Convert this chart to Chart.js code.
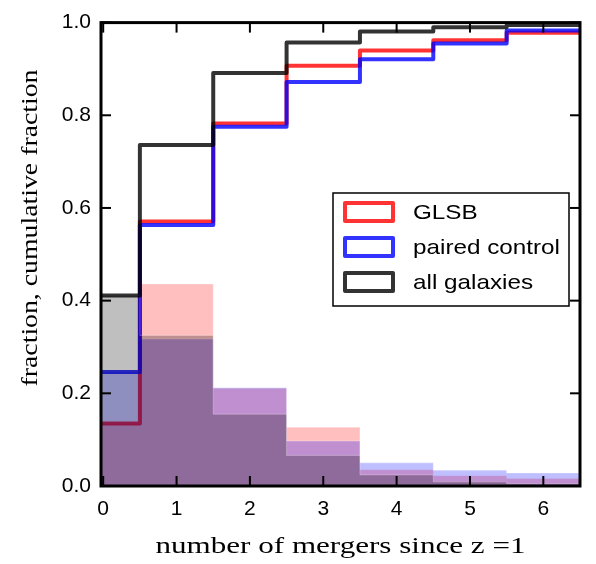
<!DOCTYPE html>
<html>
<head>
<meta charset="utf-8">
<title>mergers since z=1</title>
<script src="https://cdn.jsdelivr.net/npm/chart.js@4.4.0/dist/chart.umd.min.js"></script>
<style>
  body { margin: 0; background: #fff; }
  canvas { display: block; }
</style>
</head>
<body>
<canvas id="mergers" width="596" height="564"></canvas>
<script>
// number of mergers per galaxy (bin centres)
var mergerBins = [0, 1, 2, 3, 4, 5, 6];

// fraction of each sample in each bin
var glsbFrac    = [0.135, 0.436, 0.211, 0.127, 0.035, 0.022, 0.016];
var controlFrac = [0.246, 0.317, 0.212, 0.097, 0.050, 0.034, 0.028];
var allFrac     = [0.411, 0.325, 0.155, 0.066, 0.024, 0.009, 0.005];

// cumulative fraction
var glsbCum    = [0.135, 0.571, 0.782, 0.907, 0.940, 0.962, 0.978];
var controlCum = [0.246, 0.563, 0.775, 0.872, 0.921, 0.955, 0.983];
var allCum     = [0.411, 0.736, 0.891, 0.957, 0.981, 0.990, 0.995];

var xTicks = [0, 1, 2, 3, 4, 5, 6];
var yTicks = [0.0, 0.2, 0.4, 0.6, 0.8, 1.0];

var legendRows = [
  { label: 'GLSB', color: 'rgba(255,0,0,0.8)' },
  { label: 'paired control', color: 'rgba(0,0,255,0.8)' },
  { label: 'all galaxies', color: 'rgba(0,0,0,0.8)' }
];

// left bin edges carry the value, last point closes the final bin
function stepPoints(vals) {
  var pts = mergerBins.map(function(b, i) { return { x: b - 0.5, y: vals[i] }; });
  pts.push({ x: mergerBins[mergerBins.length - 1] + 0.5, y: vals[vals.length - 1] });
  return pts;
}

function histSet(vals, fillColor, order) {
  return {
    data: stepPoints(vals),
    stepped: true,
    fill: 'origin',
    backgroundColor: fillColor,
    borderColor: 'rgba(255,255,255,0.25)',
    borderWidth: 1,
    pointRadius: 0,
    order: order
  };
}

function cumSet(vals, lineColor, order) {
  return {
    data: stepPoints(vals),
    stepped: true,
    fill: false,
    borderColor: lineColor,
    borderWidth: 4,
    borderJoinStyle: 'round',
    borderCapStyle: 'round',
    pointRadius: 0,
    order: order
  };
}

function line(ctx, x1, y1, x2, y2) {
  ctx.beginPath();
  ctx.moveTo(x1, y1);
  ctx.lineTo(x2, y2);
  ctx.stroke();
}

// text drawn at a given width (the serif labels run wide)
function wideText(ctx, txt, x, y, width) {
  var w = ctx.measureText(txt).width;
  ctx.save();
  ctx.translate(x, y);
  ctx.scale(width / w, 1);
  ctx.fillText(txt, 0, 0);
  ctx.restore();
}

// frame, inward ticks on all sides, axis titles and the legend box
var decorations = {
  id: 'decorations',
  afterDraw: function(chart) {
    var ctx = chart.ctx, ca = chart.chartArea;
    var xs = chart.scales.x, ys = chart.scales.y;
    ctx.save();
    ctx.strokeStyle = '#000';
    ctx.lineWidth = 2;
    xTicks.forEach(function(v) {
      var px = xs.getPixelForValue(v);
      line(ctx, px, ca.bottom, px, ca.bottom - 10);
      line(ctx, px, ca.top, px, ca.top + 10);
    });
    yTicks.forEach(function(v) {
      var py = ys.getPixelForValue(v);
      line(ctx, ca.left, py, ca.left + 10, py);
      line(ctx, ca.right, py, ca.right - 10, py);
    });
    ctx.lineWidth = 3;
    ctx.strokeRect(ca.left, ca.top, ca.right - ca.left, ca.bottom - ca.top);

    // axis titles
    ctx.fillStyle = '#000';
    ctx.font = '24px "Liberation Serif"';
    ctx.textAlign = 'center';
    ctx.textBaseline = 'alphabetic';
    wideText(ctx, 'number of mergers since z =1', (ca.left + ca.right) / 2, 553, 370);
    ctx.save();
    ctx.translate(37, 228);
    ctx.rotate(-Math.PI / 2);
    wideText(ctx, 'fraction, cumulative fraction', 0, 0, 317);
    ctx.restore();

    // legend
    var bx = 333, by = 193, bw = 236, bh = 113;
    ctx.fillStyle = '#fff';
    ctx.fillRect(bx, by, bw, bh);
    ctx.lineWidth = 1.5;
    ctx.strokeStyle = '#000';
    ctx.strokeRect(bx, by, bw, bh);
    ctx.font = '21px "Liberation Sans"';
    ctx.textAlign = 'left';
    ctx.textBaseline = 'middle';
    var stretch = 147 / ctx.measureText('paired control').width;
    legendRows.forEach(function(row, i) {
      var cy = 212 + i * 35;
      ctx.strokeStyle = row.color;
      ctx.lineWidth = 4;
      ctx.lineJoin = 'round';
      ctx.strokeRect(345, cy - 9, 48, 18);
      ctx.fillStyle = '#000';
      ctx.save();
      ctx.translate(413, cy + 1);
      ctx.scale(stretch, 1);
      ctx.fillText(row.label, 0, 0);
      ctx.restore();
    });
    ctx.restore();
  }
};

new Chart(document.getElementById('mergers'), {
  type: 'line',
  data: {
    datasets: [
      cumSet(allCum, 'rgba(0,0,0,0.8)', 0),
      histSet(allFrac, 'rgba(0,0,0,0.25)', 1),
      cumSet(controlCum, 'rgba(0,0,255,0.8)', 2),
      histSet(controlFrac, 'rgba(0,0,255,0.25)', 3),
      cumSet(glsbCum, 'rgba(255,0,0,0.8)', 4),
      histSet(glsbFrac, 'rgba(255,0,0,0.25)', 5)
    ]
  },
  options: {
    responsive: false,
    animation: false,
    events: [],
    layout: { padding: { left: 0, right: 16, top: 13, bottom: 0 } },
    plugins: { legend: { display: false }, tooltip: { enabled: false } },
    scales: {
      x: {
        type: 'linear',
        min: -0.03,
        max: 6.5,
        grid: { display: false, drawTicks: false },
        border: { display: false },
        afterBuildTicks: function(scale) {
          scale.ticks = xTicks.map(function(v) { return { value: v }; });
        },
        afterFit: function(scale) { scale.height = 78; },
        ticks: {
          padding: 11,
          color: '#000',
          font: { family: '"Liberation Sans"', size: 21 },
          maxRotation: 0,
          callback: function(v) { return String(v); }
        }
      },
      y: {
        type: 'linear',
        min: 0,
        max: 1,
        grid: { display: false, drawTicks: false },
        border: { display: false },
        afterBuildTicks: function(scale) {
          scale.ticks = yTicks.map(function(v) { return { value: v }; });
        },
        afterFit: function(scale) { scale.width = 101; },
        ticks: {
          padding: 10,
          color: '#000',
          font: { family: '"Liberation Sans"', size: 21 },
          callback: function(v) { return Number(v).toFixed(1); }
        }
      }
    }
  },
  plugins: [decorations]
});
</script>
</body>
</html>
